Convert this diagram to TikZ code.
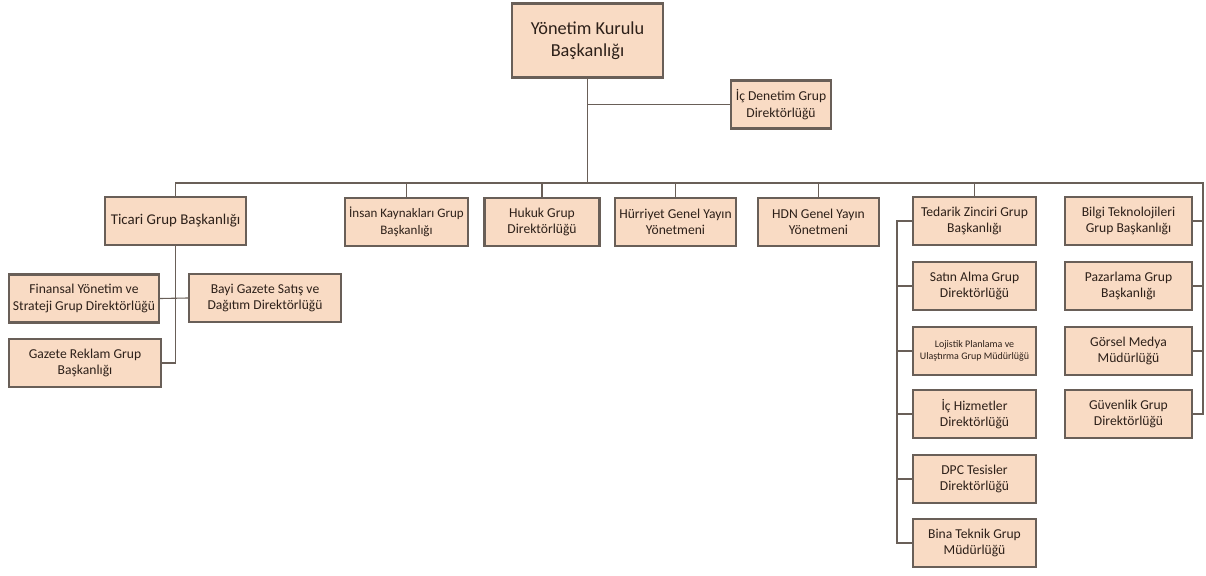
\documentclass[tikz,border=0pt]{standalone}
\usepackage{fontspec}
\setmainfont{Carlito}
\definecolor{peach}{RGB}{249,219,196}
\definecolor{rim}{RGB}{105,95,88}
\definecolor{ink}{RGB}{45,32,25}

\begin{document}
\begin{tikzpicture}[x=1pt,y=-1pt]

\tikzset{
    box/.style={rectangle,fill=peach,draw=rim,line width=2.2pt,
        minimum width=#1,minimum height=48pt,inner sep=1pt,align=center,text=ink,
        font=\fontsize{13.6}{16.5}\selectfont},
    wire/.style={draw=rim,line width=1.1pt}}

\useasboundingbox (0,0) rectangle (1206,575);

\node[box=151pt, minimum height=74pt, font=\fontsize{18.3}{22}\selectfont] (yk) at (587.5,40.5) {Yönetim Kurulu\\Başkanlığı};
\node[box=100pt] (ic) at (781,104.5) {İç Denetim Grup\\Direktörlüğü};

\coordinate (bl) at (176,183);
\coordinate (br) at (1203,183);
\coordinate (tl) at (897,183);

\node[box=141pt, font=\fontsize{14.9}{18}\selectfont] (tic) at (175.5,221) {Ticari Grup Başkanlığı};
\node[box=123pt, font=\fontsize{13}{16.5}\selectfont] (ins) at (406.5,222) {İnsan Kaynakları Grup\\Başkanlığı};
\node[box=115pt] (hk) at (542,222) {Hukuk Grup\\Direktörlüğü};
\node[box=121pt] (hy) at (675.5,222) {Hürriyet Genel Yayın\\Yönetmeni};
\node[box=121pt] (hd) at (818.5,222) {HDN Genel Yayın\\Yönetmeni};
\node[box=123pt] (td) at (974.5,221) {Tedarik Zinciri Grup\\Başkanlığı};
\node[box=127pt] (bi) at (1128.5,221) {Bilgi Teknolojileri\\Grup Başkanlığı};

\node[box=150pt] (fn) at (84,298.5) {Finansal Yönetim ve\\Strateji Grup Direktörlüğü};
\node[box=152pt] (by) at (265,298) {Bayi Gazete Satış ve\\Dağıtım Direktörlüğü};
\node[box=152pt] (gz) at (85,363) {Gazete Reklam Grup\\Başkanlığı};

\node[box=123pt] (sa) at (974.5,286) {Satın Alma Grup\\Direktörlüğü};
\node[box=123pt, font=\fontsize{10}{12.5}\selectfont] (lo) at (974.5,351) {Lojistik Planlama ve\\Ulaştırma Grup Müdürlüğü};
\node[box=123pt] (ih) at (974.5,414) {İç Hizmetler\\Direktörlüğü};
\node[box=123pt] (dp) at (974.5,479) {DPC Tesisler\\Direktörlüğü};
\node[box=123pt] (bn) at (974.5,543) {Bina Teknik Grup\\Müdürlüğü};

\node[box=127pt] (pz) at (1128.5,286) {Pazarlama Grup\\Başkanlığı};
\node[box=127pt] (gm) at (1128.5,351) {Görsel Medya\\Müdürlüğü};
\node[box=127pt] (gv) at (1128.5,414) {Güvenlik Grup\\Direktörlüğü};

\draw[wire] (yk.south) -- (yk.south |- bl);
\draw[wire] (yk.south |- ic) -- (ic.west);
\draw[wire] (tic.north) |- (br) |- (gv.east);

\draw[wire] (ins.north) -- (ins.north |- bl);
\draw[wire] (hk.north) -- (hk.north |- bl);
\draw[wire] (hy.north) -- (hy.north |- bl);
\draw[wire] (hd.north) -- (hd.north |- bl);
\draw[wire] (td.north) -- (td.north |- bl);

\draw[wire] (bi.east) -- (bi.east -| br);
\draw[wire] (pz.east) -- (pz.east -| br);
\draw[wire] (gm.east) -- (gm.east -| br);

\draw[wire] (tic.south) |- (gz.east);
\draw[wire] (fn.east) -- (by.west);

\draw[wire] (td.west) -- (td.west -| tl) |- (bn.west);
\draw[wire] (sa.west) -- (sa.west -| tl);
\draw[wire] (lo.west) -- (lo.west -| tl);
\draw[wire] (ih.west) -- (ih.west -| tl);
\draw[wire] (dp.west) -- (dp.west -| tl);

\end{tikzpicture}
\end{document}
